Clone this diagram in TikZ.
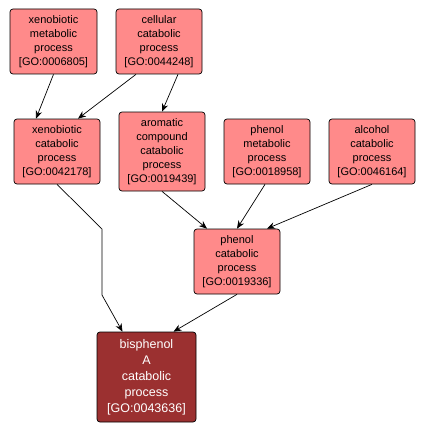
\documentclass[tikz,border=0pt]{standalone}
\usepackage{fontspec}
\setmainfont{Liberation Sans}
\usetikzlibrary{arrows.meta}
\definecolor{boxfill}{HTML}{FF8A8A}
\definecolor{darkfill}{HTML}{9B3030}
\begin{document}
\begin{tikzpicture}[x=1pt,y=-1pt,
  gobox/.style={draw=black,fill=boxfill,rounded corners=3pt,line width=0.7pt,
    minimum width=86pt,minimum height=65pt,align=center,inner sep=1pt,
    font=\fontsize{11}{14}\selectfont},
  goedge/.style={draw=black,line width=0.7pt,-{Stealth[length=8pt,width=6.5pt]}}]
\useasboundingbox (0,0) rectangle (425,433);
\node[gobox,minimum width=87pt] (n1) at (53.5,41.5) {xenobiotic\\metabolic\\process\\{[}GO:0006805{]}};
\node[gobox] (n2) at (159,41.5) {cellular\\catabolic\\process\\{[}GO:0044248{]}};
\node[gobox] (n3) at (57,151.5) {xenobiotic\\catabolic\\process\\{[}GO:0042178{]}};
\node[gobox,minimum height=79pt] (n4) at (162,151.5) {aromatic\\compound\\catabolic\\process\\{[}GO:0019439{]}};
\node[gobox] (n5) at (267,151.5) {phenol\\metabolic\\process\\{[}GO:0018958{]}};
\node[gobox] (n6) at (372,151.5) {alcohol\\catabolic\\process\\{[}GO:0046164{]}};
\node[gobox] (n7) at (237,261.5) {phenol\\catabolic\\process\\{[}GO:0019336{]}};
\node[gobox,fill=darkfill,text=white,minimum width=99pt,minimum height=90pt,
  font=\fontsize{12.5}{16}\selectfont] (n8) at (146.5,377) {bisphenol\\A\\catabolic\\process\\{[}GO:0043636{]}};
\draw[goedge] (n1.south) -- ([xshift=-21pt]n3.north);
\draw[goedge] ([xshift=-23pt]n2.south) -- ([xshift=21pt]n3.north);
\draw[goedge] ([xshift=19pt]n2.south) -- (n4.north);
\draw[goedge] (n3.south) -- (102,229) -- (102,295) -- ([xshift=-24pt]n8.north);
\draw[goedge] (n4.south) -- ([xshift=-30pt]n7.north);
\draw[goedge] ([xshift=-2pt]n5.south) -- (n7.north);
\draw[goedge] (n6.south) -- ([xshift=30pt]n7.north);
\draw[goedge] (n7.south) -- ([xshift=27pt]n8.north);
\end{tikzpicture}
\end{document}
